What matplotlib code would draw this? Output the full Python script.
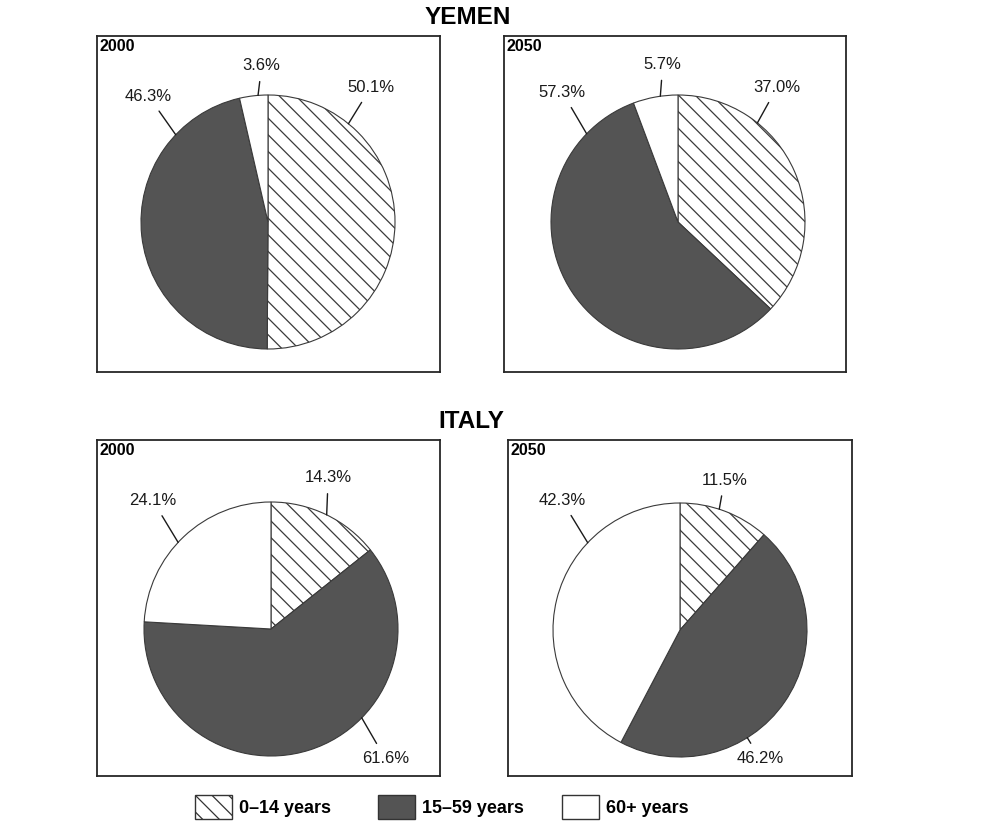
import numpy as np
import matplotlib
matplotlib.use("Agg")
import matplotlib.pyplot as plt
from matplotlib.patches import Patch

plt.rcParams['font.family'] = ['Liberation Sans', 'DejaVu Sans']
plt.rcParams['hatch.linewidth'] = 0.9

# data
age_groups = ["0\u201314 years", "15\u201359 years", "60+ years"]
yemen_2000 = [50.1, 46.3, 3.6]
yemen_2050 = [37.0, 57.3, 5.7]
italy_2000 = [14.3, 61.6, 24.1]
italy_2050 = [11.5, 46.2, 42.3]

fill_colors = ['white', '#545454', 'white']
hatches = ['\\\\', '', '']
edge = '#3a3a3a'

W, H = 1002, 834
fig = plt.figure(figsize=(W / 100, H / 100), dpi=100)

R = 127  # pie radius in pixels


def panel(box, center, values, year, label_angles, label_pos):
    # box = (x0, y0, x1, y1) in pixels from top-left, center in pixels
    x0, y0, x1, y1 = box
    ax = fig.add_axes([x0 / W, 1 - y1 / H, (x1 - x0) / W, (y1 - y0) / H])
    ax.pie(values, colors=fill_colors, hatch=hatches, startangle=90,
           counterclock=False, frame=True,
           wedgeprops=dict(edgecolor=edge, linewidth=0.8))
    cx = (center[0] - x0) / R
    cy = (y1 - center[1]) / R
    ax.set_xlim(-cx, (x1 - x0) / R - cx)
    ax.set_ylim(-cy, (y1 - y0) / R - cy)
    ax.set_aspect('auto')
    ax.set_xticks([])
    ax.set_yticks([])
    for s in ax.spines.values():
        s.set_linewidth(1.3)
        s.set_color('#262626')
    ax.text(0.008, 0.99, year, transform=ax.transAxes, ha='left', va='top',
            fontsize=11.5, fontweight='bold')
    for v, a, p in zip(values, label_angles, label_pos):
        t = np.deg2rad(a)
        ax.annotate(f"{v:.1f}%", xy=(np.cos(t), np.sin(t)), xytext=p,
                    ha='center', va='center', fontsize=12, color='#1a1a1a',
                    arrowprops=dict(arrowstyle='-', color='#1a1a1a', lw=1.0,
                                    shrinkA=4, shrinkB=0))
    return ax


panel((97, 36, 440, 372), (268, 222), yemen_2000, "2000",
      [50.7, 136.6, 94.5], [(0.81, 1.06), (-0.94, 0.99), (-0.05, 1.23)])
panel((504, 36, 846, 372), (678, 222), yemen_2050, "2050",
      [51.3, 136.0, 98.0], [(0.78, 1.06), (-0.91, 1.02), (-0.12, 1.24)])
panel((97, 440, 440, 776), (271, 629), italy_2000, "2000",
      [64.0, -44.4, 137.0], [(0.45, 1.19), (0.90, -1.02), (-0.93, 1.01)])
panel((508, 440, 852, 776), (680, 630), italy_2050, "2050",
      [72.0, -58.0, 136.6], [(0.35, 1.18), (0.63, -1.01), (-0.93, 1.02)])

fig.text(468 / W, 1 - 17 / H, "YEMEN", ha='center', va='center',
         fontsize=17.5, fontweight='bold')
fig.text(471 / W, 1 - 421 / H, "ITALY", ha='center', va='center',
         fontsize=17.5, fontweight='bold')

# legend, one entry per group
legend_x = [195, 378, 562]
for name, c, h, lx in zip(age_groups, fill_colors, hatches, legend_x):
    handle = Patch(facecolor=c, hatch=h, edgecolor='#333333', linewidth=1.0)
    fig.legend([handle], [name], loc='center left',
               bbox_to_anchor=(lx / W, 1 - 807 / H), frameon=False,
               prop=dict(size=13, weight='bold'), handlelength=2.05,
               handleheight=1.7, handletextpad=0.4, borderpad=0,
               borderaxespad=0)

fig.savefig("out.png", dpi=100)
